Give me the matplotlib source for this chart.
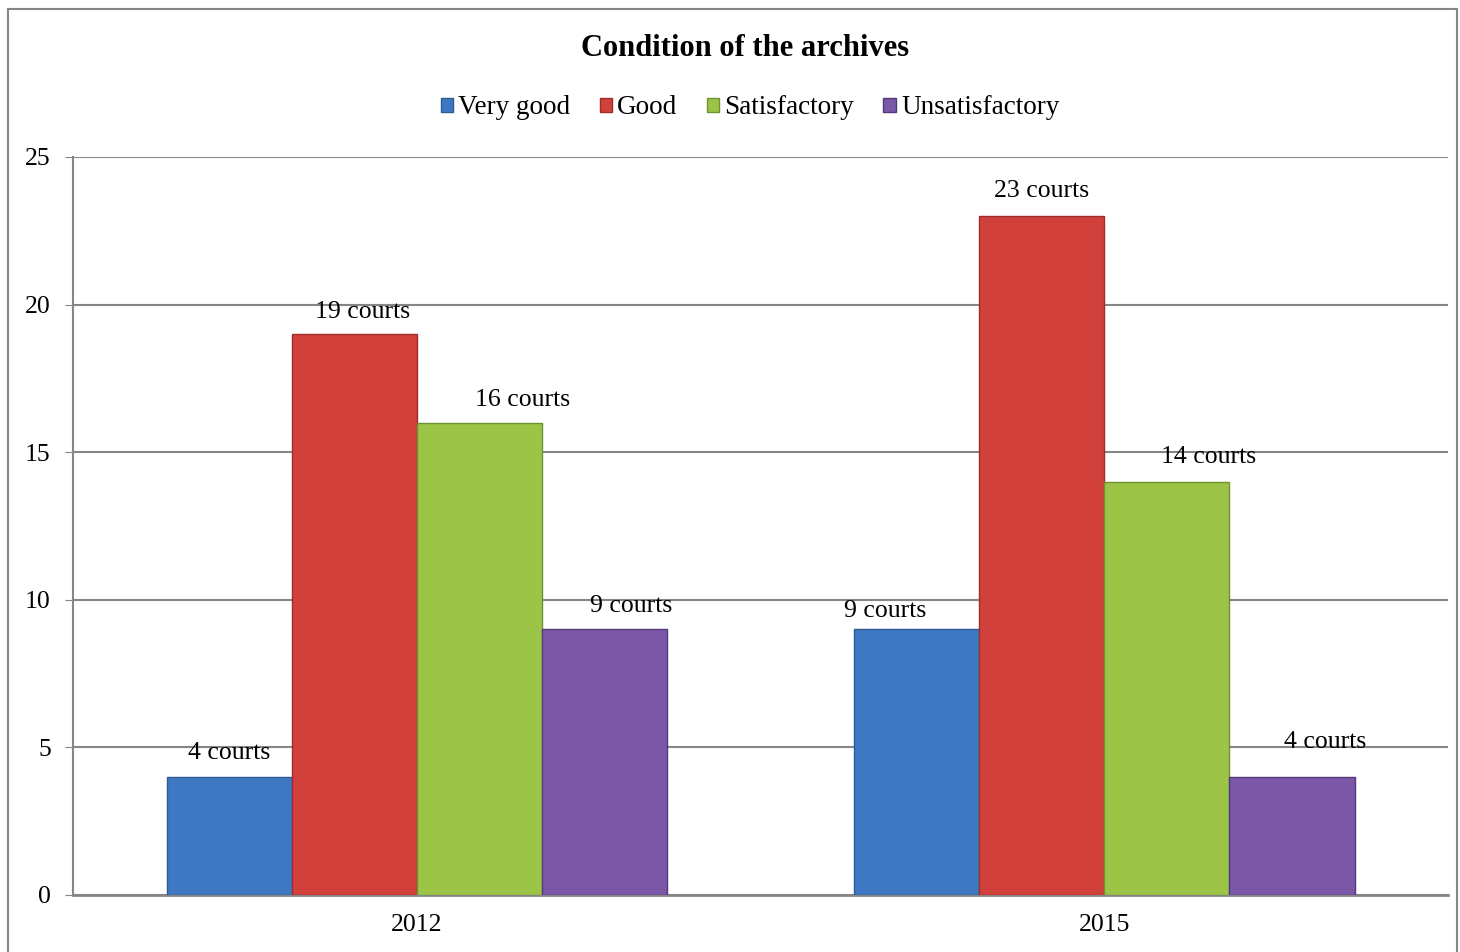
import matplotlib
matplotlib.use("Agg")
import matplotlib.pyplot as plt
from matplotlib.patches import Rectangle
import numpy as np

plt.rcParams["font.family"] = ["Liberation Serif", "DejaVu Serif"]

years = ["2012", "2015"]
series = ["Very good", "Good", "Satisfactory", "Unsatisfactory"]
very_good = [4, 9]
good = [19, 23]
satisfactory = [16, 14]
unsatisfactory = [9, 4]
values = [very_good, good, satisfactory, unsatisfactory]
colors = ["#3f78c2", "#d2403c", "#9cc548", "#7b57a8"]
edges = ["#2c5a94", "#9e2c2a", "#6f9230", "#56397c"]

# per-label nudges in points (labels were hand placed in the original)
label_offsets = [
    [(0, 17), (-23, 13)],
    [(6, 16), (0, 18)],
    [(31, 16), (30, 18)],
    [(19, 17), (24, 25)],
]

fig = plt.figure(figsize=(14.6, 9.52), dpi=100)
ax = fig.add_axes([0.05, 0.0599, 0.9418, 0.7752])

x = np.arange(len(years))
width = 0.182
n = len(series)
for i, (name, vals) in enumerate(zip(series, values)):
    pos = x + (i - (n - 1) / 2) * width
    bars = ax.bar(pos, vals, width=width, color=colors[i], edgecolor=edges[i],
                  linewidth=1.0, label=name, zorder=3)
    for j, b in enumerate(bars):
        ax.annotate(f"{vals[j]} courts",
                    (b.get_x() + b.get_width() / 2, b.get_height()),
                    textcoords="offset points", xytext=label_offsets[i][j],
                    ha="center", va="center", fontsize=18.5, zorder=4)

ax.set_xlim(-0.5, 1.5)
ax.set_ylim(0, 25)
ax.set_yticks(range(0, 26, 5))
ax.set_xticks(x)
ax.set_xticklabels(years)
ax.tick_params(axis="y", labelsize=18.5, length=6, color="#868686", pad=10)
ax.tick_params(axis="x", labelsize=18.5, length=0, pad=14)
ax.yaxis.grid(True, color="#868686", linewidth=1.5, zorder=0)
ax.set_axisbelow(True)
for s in ["top", "right"]:
    ax.spines[s].set_visible(False)
ax.spines["left"].set_color("#868686")
ax.spines["left"].set_linewidth(1.5)
ax.spines["bottom"].set_color("#868686")
ax.spines["bottom"].set_linewidth(2)

fig.text(745 / 1460, 1 - 49 / 952, "Condition of the archives", ha="center", va="center",
         fontsize=22, fontweight="bold")
fig.legend(loc="center", bbox_to_anchor=(750 / 1460, 1 - 108 / 952), ncol=4, frameon=False,
           fontsize=19.5, handlelength=0.45, handleheight=0.45, handletextpad=0.2,
           columnspacing=1.08)

fig.patches.append(Rectangle((8 / 1460, -0.05), 1449 / 1460, 1.05 - 9 / 952,
                             transform=fig.transFigure, fill=False,
                             edgecolor="#868686", linewidth=1.5))

fig.savefig("out.png", dpi=100)
